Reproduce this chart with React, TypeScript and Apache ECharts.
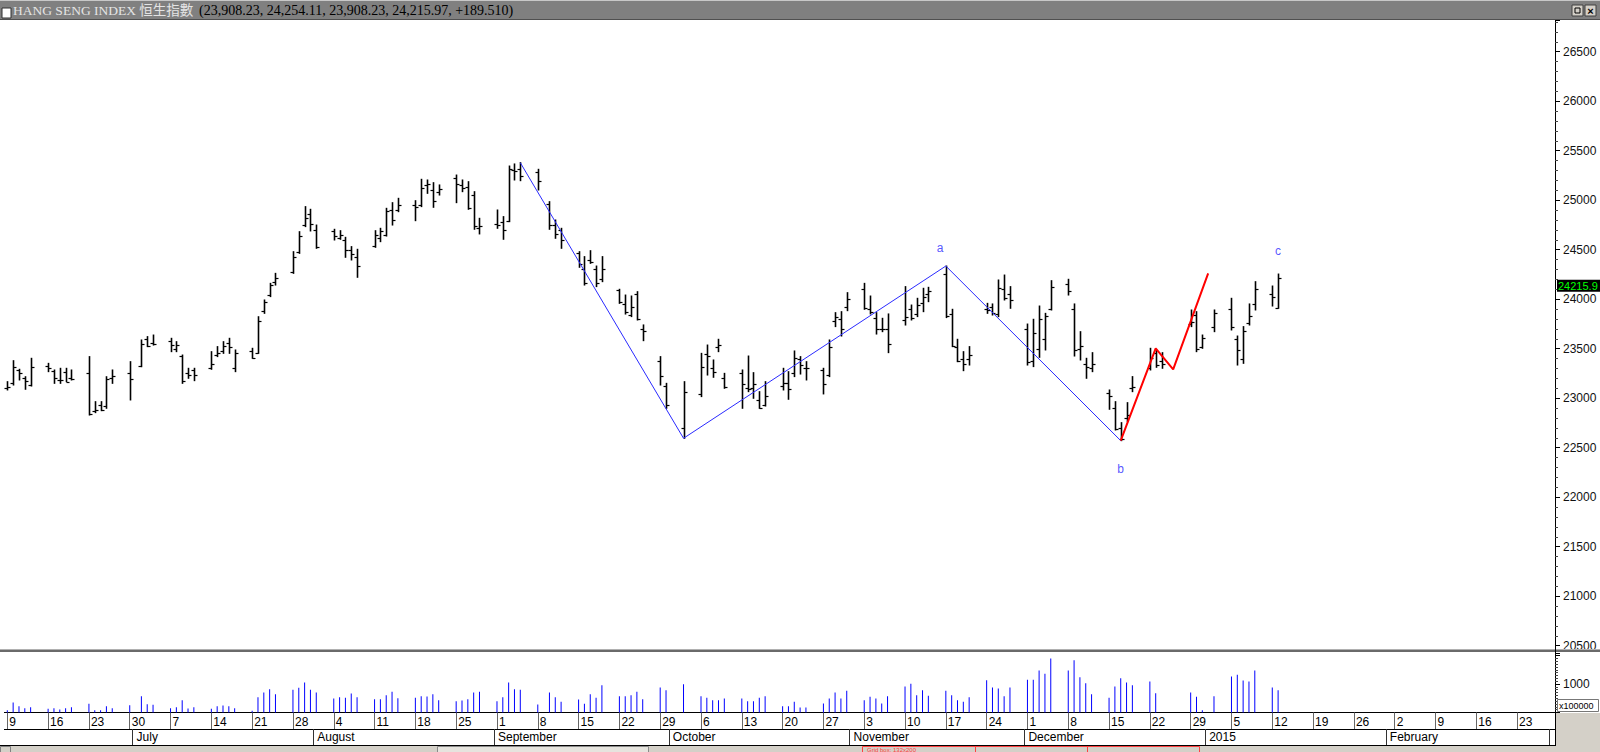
import React, { useEffect, useRef } from "react";
import * as echarts from "echarts";

// ---------- DATA ----------
const tradeDates = [
  "2014-06-09","2014-06-10","2014-06-11","2014-06-12","2014-06-13","2014-06-16","2014-06-17","2014-06-18","2014-06-19","2014-06-20",
  "2014-06-23","2014-06-24","2014-06-25","2014-06-26","2014-06-27","2014-06-30",
  "2014-07-02","2014-07-03","2014-07-04","2014-07-07","2014-07-08","2014-07-09","2014-07-10","2014-07-11","2014-07-14","2014-07-15",
  "2014-07-16","2014-07-17","2014-07-18","2014-07-21","2014-07-22","2014-07-23","2014-07-24","2014-07-25","2014-07-28","2014-07-29",
  "2014-07-30","2014-07-31",
  "2014-08-01","2014-08-04","2014-08-05","2014-08-06","2014-08-07","2014-08-08","2014-08-11","2014-08-12","2014-08-13","2014-08-14",
  "2014-08-15","2014-08-18","2014-08-19","2014-08-20","2014-08-21","2014-08-22","2014-08-25","2014-08-26","2014-08-27","2014-08-28",
  "2014-08-29",
  "2014-09-01","2014-09-02","2014-09-03","2014-09-04","2014-09-05","2014-09-08","2014-09-10","2014-09-11","2014-09-12","2014-09-15",
  "2014-09-16","2014-09-17","2014-09-18","2014-09-19","2014-09-22","2014-09-23","2014-09-24","2014-09-25","2014-09-26","2014-09-29",
  "2014-09-30",
  "2014-10-03","2014-10-06","2014-10-07","2014-10-08","2014-10-09","2014-10-10","2014-10-13","2014-10-14","2014-10-15","2014-10-16",
  "2014-10-17","2014-10-20","2014-10-21","2014-10-22","2014-10-23","2014-10-24","2014-10-27","2014-10-28","2014-10-29","2014-10-30",
  "2014-10-31",
  "2014-11-03","2014-11-04","2014-11-05","2014-11-06","2014-11-07","2014-11-10","2014-11-11","2014-11-12","2014-11-13","2014-11-14",
  "2014-11-17","2014-11-18","2014-11-19","2014-11-20","2014-11-21","2014-11-24","2014-11-25","2014-11-26","2014-11-27","2014-11-28",
  "2014-12-01","2014-12-02","2014-12-03","2014-12-04","2014-12-05","2014-12-08","2014-12-09","2014-12-10","2014-12-11","2014-12-12",
  "2014-12-15","2014-12-16","2014-12-17","2014-12-18","2014-12-19","2014-12-22","2014-12-23","2014-12-24","2014-12-29","2014-12-30",
  "2014-12-31",
  "2015-01-02","2015-01-05","2015-01-06","2015-01-07","2015-01-08","2015-01-09","2015-01-12","2015-01-13",
];

const opens = [
  23100,23150,23280,23200,23130,23330,23270,23180,23260,23200,
  23250,22870,22930,22920,23200,23250,
  23330,23600,23560,23580,23500,23430,23250,23280,23300,23440,
  23480,23560,23300,23480,23460,23880,24040,24170,24270,24480,
  24750,24860,
  24700,24690,24620,24600,24500,24430,24540,24620,24650,24900,
  24900,24950,24950,25150,25100,25080,25220,25150,25130,25050,
  24720,
  24760,24780,24790,25300,25320,25280,24960,24750,24700,24470,
  24300,24400,24300,24200,24090,23950,23840,24050,23700,23380,
  23120,
  22700,23040,23450,23300,23520,23200,23250,23100,23100,22980,
  22930,23120,23150,23250,23400,23300,23280,23230,23780,23800,
  23920,
  24100,23900,23810,23700,23700,23790,23900,23850,23960,24050,
  24250,23850,23520,23400,23400,23900,23920,23850,24100,24050,
  23700,23380,23500,23600,23900,24150,23900,23500,23350,23300,
  23050,22900,22700,22800,23100,23300,23460,23380,23750,23840,
  23520,
  23720,23900,23600,23400,23760,23950,24050,23908.23,
];

const highs = [
  23167,23379,23292,23217,23403,23352,23285,23302,23302,23285,
  23420,22965,22965,23217,23285,23369,
  23588,23622,23638,23605,23571,23436,23302,23302,23470,23521,
  23571,23605,23487,23504,23823,23992,24160,24261,24480,24682,
  24935,24908,
  24749,24706,24692,24625,24531,24504,24692,24716,24918,24975,
  25019,24995,25211,25204,25177,25154,25254,25204,25187,25086,
  24817,
  24901,24834,25345,25366,25379,25312,24985,24800,24716,24480,
  24430,24490,24335,24430,24100,24042,24032,24076,23740,23420,
  23150,
  23167,23453,23537,23386,23595,23251,23285,23426,23258,23066,
  23167,23302,23268,23477,23420,23369,23302,23588,23864,23874,
  24066,
  24160,24032,23864,23807,23851,24127,23941,24009,24110,24120,
  24335,23898,23595,23470,23521,23958,23952,24194,24244,24127,
  23749,23797,23931,23857,24187,24201,23952,23672,23403,23460,
  23083,22965,22753,22955,23218,23504,23487,23460,23891,23874,
  23638,
  23891,24009,23628,23723,23952,24177,24133,24254.11,
];

const lows = [
  23083,23133,23184,23090,23123,23268,23150,23150,23167,23184,
  22830,22854,22874,22898,23150,22982,
  23318,23521,23537,23470,23470,23150,23201,23177,23292,23420,
  23453,23453,23268,23403,23453,23857,24026,24143,24261,24463,
  24733,24689,
  24514,24598,24605,24423,24396,24221,24524,24581,24638,24749,
  24884,24793,24935,25069,24928,25052,24975,25086,24908,24706,
  24659,
  24716,24605,24783,25204,25197,25103,24706,24615,24514,24322,
  24143,24362,24127,24177,23958,23850,23824,23790,23581,23133,
  22898,
  22595,23016,23234,23211,23470,23100,22898,23066,22999,22898,
  22921,23083,22989,23218,23244,23184,23043,23218,23723,23628,
  23884,
  23898,23851,23648,23672,23460,23739,23790,23824,23874,23975,
  23814,23521,23369,23278,23335,23857,23840,23824,23992,23908,
  23335,23319,23413,23487,23891,24042,23426,23386,23201,23268,
  22888,22679,22571,22763,23066,23285,23312,23302,23723,23470,
  23504,
  23672,23689,23335,23352,23739,23891,23931,23908.23,
];

const closes = [
  23117,23315,23257,23175,23319,23300,23203,23181,23168,23194,
  22840,22880,22880,23197,23221,23190,
  23549,23531,23546,23540,23541,23176,23238,23233,23346,23459,
  23523,23520,23454,23410,23782,23971,24141,24216,24428,24640,
  24820,24757,
  24532,24640,24648,24500,24460,24332,24646,24689,24890,24801,
  24955,24935,25122,25159,24994,25112,25166,25123,24918,24741,
  24742,
  24752,24700,25318,25297,25240,25190,24750,24662,24595,24356,
  24160,24376,24168,24306,23970,23870,23921,23800,23678,23229,
  22932,
  23064,23315,23422,23263,23534,23110,23143,23090,23140,22900,
  23024,23150,23088,23403,23333,23302,23143,23520,23820,23702,
  23998,
  23915,23870,23695,23695,23550,23820,23808,23938,24019,24087,
  23830,23530,23373,23349,23437,23893,23860,24111,24010,23987,
  23367,23654,23800,23832,24120,24080,23485,23524,23312,23350,
  23027,22690,22585,22832,23116,23408,23333,23349,23773,23501,
  23605,
  23857,23721,23485,23681,23835,24100,24026.46,24215.97,
];

// volume, units of 100000
const volumes = [
  82,351,222,152,187,129,152,105,152,187,
  304,82,82,222,152,257,
  573,292,269,152,187,433,140,187,129,222,
  246,222,152,59,538,702,819,644,796,866,
  1053,796,
  702,491,538,515,667,538,468,468,608,725,
  503,515,573,562,644,433,398,421,468,702,
  725,
  398,538,1053,819,796,281,702,538,374,456,
  304,644,515,959,573,573,608,725,468,878,
  784,
  995,573,515,433,433,491,491,398,398,515,
  573,222,222,374,176,176,316,491,702,491,
  760,
  433,550,491,316,573,913,1006,608,784,585,
  760,608,433,374,538,1135,878,842,573,878,
  1147,1147,1474,1357,1895,1474,1837,1240,1030,644,
  515,913,1205,1053,959,1088,679,null,702,550,
  82,
  573,1264,1322,1123,1088,1474,878,784,
];

// Elliott-style annotation lines
const waveDates = ["2014-09-05", "2014-10-03", "2014-11-17", "2014-12-17"];
const waveValues = [25379, 22595, 24335, 22571];
const redDates = ["2014-12-17", "2014-12-23", "2014-12-26", "2015-01-01"];
const redValues = [22571, 23504, 23292, 24261];
const labelNames = ["a", "b", "c"];
const labelDates = ["2014-11-16", "2014-12-17", "2015-01-13"];
const labelValues = [24514, 22282, 24484];

// axes
const priceMin = 20500;
const priceMax = 26820;
const priceStep = 500;
const volMin = 0;
const volMax = 2088;
const volStep = 1000;
const firstDay = "2014-06-09";
const dayCount = 266;
const monthNames = ["January","February","March","April","May","June","July","August","September","October","November","December"];
const titleName = "HANG SENG INDEX 恒生指數";

// ---------- HELPERS ----------
const DAY = 86400000;
const START = Date.parse(firstDay + "T00:00:00Z");
const dayAt = (i: number) => new Date(START + i * DAY);
const iso = (d: Date) => d.toISOString().slice(0, 10);
const categories = Array.from({ length: dayCount }, (_, i) => iso(dayAt(i)));
const idxOf = (s: string) => Math.round((Date.parse(s + "T00:00:00Z") - START) / DAY);
const isMonday = (i: number) => dayAt(i).getUTCDay() === 1;
const isMonthStart = (i: number) => dayAt(i).getUTCDate() === 1;
const fmt2 = (v: number) =>
  v.toLocaleString("en-US", { minimumFractionDigits: 2, maximumFractionDigits: 2 });

export default function App() {
  const ref = useRef<HTMLDivElement>(null);

  useEffect(() => {
    document.body.style.margin = "0";
    document.body.style.background = "#fff";
    const chart = echarts.init(ref.current as HTMLDivElement, undefined, { renderer: "svg" });

    const ohlc = tradeDates.map((d, k) => [idxOf(d), opens[k], highs[k], lows[k], closes[k]]);
    const vol = tradeDates.map((d, k) => [idxOf(d), volumes[k]]);

    const L = 4.4;
    const R = 45;

    chart.setOption({
      animation: false,
      backgroundColor: "#ffffff",
      textStyle: { fontFamily: "'Liberation Sans', Arial, sans-serif" },
      grid: [
        { left: L, right: R, top: 20, height: 625.7 },
        { left: L, right: R, top: 653, height: 59.5 },
      ],
      xAxis: [
        { type: "category", gridIndex: 0, data: categories, show: false, boundaryGap: true },
        {
          type: "category",
          gridIndex: 1,
          data: categories,
          boundaryGap: true,
          position: "bottom",
          axisLine: { show: true, lineStyle: { color: "#000", width: 1 } },
          axisTick: {
            show: true,
            alignWithLabel: true,
            interval: (i: number) => isMonday(i),
            length: 16.5,
            lineStyle: { color: "#666", width: 1 },
          },
          axisLabel: {
            show: true,
            interval: (i: number) => isMonday(i),
            formatter: (_v: string, i: number) => String(dayAt(i).getUTCDate()),
            align: "left",
            margin: 3,
            padding: [0, 0, 0, 2],
            fontSize: 12,
            color: "#000",
          },
          splitLine: { show: false },
        },
        {
          type: "category",
          gridIndex: 1,
          data: categories,
          boundaryGap: true,
          position: "bottom",
          offset: 16.5,
          axisLine: { show: true, lineStyle: { color: "#000", width: 1 } },
          axisTick: {
            show: true,
            alignWithLabel: false,
            interval: (i: number) => isMonthStart(i),
            length: 16,
            lineStyle: { color: "#333", width: 1 },
          },
          axisLabel: {
            show: true,
            interval: (i: number) => isMonthStart(i),
            formatter: (_v: string, i: number) => {
              if (i > dayCount - 8) return "";
              const d = dayAt(i);
              const m = d.getUTCMonth();
              return m === 0 ? String(d.getUTCFullYear()) : monthNames[m];
            },
            align: "left",
            margin: 2,
            padding: [0, 0, 0, 1],
            fontSize: 12,
            color: "#000",
          },
          splitLine: { show: false },
        },
      ],
      yAxis: [
        {
          type: "value",
          gridIndex: 0,
          position: "right",
          min: priceMin,
          max: priceMax,
          interval: priceStep,
          axisLine: { show: true, lineStyle: { color: "#000" } },
          axisTick: { show: true, length: 5, lineStyle: { color: "#000" } },
          minorTick: { show: true, splitNumber: 5, length: 3, lineStyle: { color: "#444" } },
          splitLine: { show: false },
          axisLabel: {
            margin: 8,
            fontSize: 12,
            color: "#111",
            showMaxLabel: false,
            formatter: (v: number) => (v % priceStep === 0 ? String(v) : ""),
          },
        },
        {
          type: "value",
          gridIndex: 1,
          position: "right",
          min: volMin,
          max: volMax,
          interval: volStep,
          axisLine: { show: true, lineStyle: { color: "#000" } },
          axisTick: { show: true, length: 5, lineStyle: { color: "#000" } },
          minorTick: { show: true, splitNumber: 10, length: 3, lineStyle: { color: "#444" } },
          splitLine: { show: false },
          axisLabel: {
            margin: 8,
            fontSize: 12,
            color: "#111",
            showMaxLabel: false,
            formatter: (v: number) => (v === volStep ? String(v) : ""),
          },
        },
      ],
      series: [
        {
          type: "custom",
          xAxisIndex: 0,
          yAxisIndex: 0,
          data: ohlc,
          encode: { x: 0, y: [1, 2, 3, 4] },
          renderItem: (_p: any, api: any) => {
            const i = api.value(0);
            const o = api.coord([i, api.value(1)]);
            const h = api.coord([i, api.value(2)]);
            const l = api.coord([i, api.value(3)]);
            const c = api.coord([i, api.value(4)]);
            const x = Math.round(h[0]) + 0.5;
            const st = { stroke: "#000", lineWidth: 1.6 };
            return {
              type: "group",
              children: [
                { type: "line", shape: { x1: x, y1: h[1] - 0.5, x2: x, y2: l[1] + 0.5 }, style: st },
                { type: "line", shape: { x1: x - 3, y1: Math.round(o[1]) + 0.5, x2: x, y2: Math.round(o[1]) + 0.5 }, style: { stroke: "#000", lineWidth: 1.2 } },
                { type: "line", shape: { x1: x, y1: Math.round(c[1]) + 0.5, x2: x + 3, y2: Math.round(c[1]) + 0.5 }, style: { stroke: "#000", lineWidth: 1.2 } },
              ],
            };
          },
          z: 3,
        },
        {
          type: "line",
          xAxisIndex: 0,
          yAxisIndex: 0,
          data: waveDates.map((d, k) => [d, waveValues[k]]),
          symbol: "none",
          lineStyle: { color: "#2a2aff", width: 1 },
          z: 4,
        },
        {
          type: "line",
          xAxisIndex: 0,
          yAxisIndex: 0,
          data: redDates.map((d, k) => [d, redValues[k]]),
          symbol: "none",
          lineStyle: { color: "#ff0000", width: 2 },
          z: 5,
        },
        {
          type: "scatter",
          xAxisIndex: 0,
          yAxisIndex: 0,
          symbol: "circle",
          symbolSize: 1,
          itemStyle: { color: "transparent" },
          data: labelNames.map((n, k) => ({ name: n, value: [labelDates[k], labelValues[k]] })),
          label: {
            show: true,
            position: "inside",
            formatter: (p: any) => p.name,
            color: "#2a2aff",
            fontSize: 12,
          },
          z: 6,
        },
        {
          type: "bar",
          xAxisIndex: 1,
          yAxisIndex: 1,
          data: vol,
          barWidth: 1,
          itemStyle: { color: "#0000ff" },
        },
      ],
    });

    const lastC = closes[closes.length - 1];
    const prevC = closes[closes.length - 2];
    const py = chart.convertToPixel({ yAxisIndex: 0 }, lastC) as number;
    const chg = lastC - prevC;
    const numText =
      "(" +
      [opens[opens.length - 1], highs[highs.length - 1], lows[lows.length - 1], lastC].map(fmt2).join(", ") +
      ", " + (chg >= 0 ? "+" : "") + chg.toFixed(3) + ")";
    const boxText = (Math.floor(lastC * 10) / 10).toFixed(1);

    chart.setOption({
      graphic: {
        elements: [
          // title bar
          { type: "rect", shape: { x: 0, y: 0, width: 1600, height: 20 }, style: { fill: "#808080" }, z: 100 },
          { type: "rect", shape: { x: 0, y: 0, width: 1600, height: 1 }, style: { fill: "#c8c8c8" }, z: 101 },
          { type: "rect", shape: { x: 0, y: 19, width: 1600, height: 1 }, style: { fill: "#505050" }, z: 101 },
          { type: "rect", shape: { x: 2, y: 8, width: 9, height: 10 }, style: { fill: "#ffffff", stroke: "#303030", lineWidth: 1 }, z: 101 },
          {
            type: "text", x: 13, y: 10, z: 101,
            style: { text: titleName, fill: "#e4e4e4", font: "13.5px 'Liberation Serif', 'Noto Sans CJK TC', serif", verticalAlign: "middle" },
          },
          {
            type: "text", x: 199, y: 10, z: 101,
            style: { text: numText, fill: "#000", font: "14px 'Liberation Serif', serif", verticalAlign: "middle" },
          },
          { type: "rect", shape: { x: 1572, y: 5, width: 11, height: 11 }, style: { fill: "#d4d0c8", stroke: "#404040", lineWidth: 1 }, z: 101 },
          { type: "rect", shape: { x: 1575, y: 8, width: 5, height: 5 }, style: { fill: "none", stroke: "#000", lineWidth: 1 }, z: 102 },
          { type: "rect", shape: { x: 1585, y: 5, width: 11, height: 11 }, style: { fill: "#d4d0c8", stroke: "#404040", lineWidth: 1 }, z: 101 },
          { type: "text", x: 1590.5, y: 10.5, z: 102, style: { text: "×", fill: "#000", font: "bold 11px 'Liberation Sans'", align: "center", verticalAlign: "middle" } },
          // separator between price & volume
          { type: "rect", shape: { x: 0, y: 649, width: 1600, height: 1 }, style: { fill: "#b0b0b0" }, z: 50 },
          { type: "rect", shape: { x: 0, y: 650, width: 1600, height: 2 }, style: { fill: "#6a6a6a" }, z: 50 },
          { type: "line", shape: { x1: 1555.5, y1: 645, x2: 1555.5, y2: 653 }, style: { stroke: "#000", lineWidth: 1 }, z: 51 },
          // price box
          { type: "rect", shape: { x: 1557, y: py + 2, width: 43, height: 12 }, style: { fill: "#000" }, z: 60 },
          { type: "text", x: 1558, y: py + 8.5, z: 61, style: { text: boxText, fill: "#00ff00", font: "11px 'Liberation Sans'", verticalAlign: "middle" } },
          // x100000 box
          { type: "rect", shape: { x: 1557.5, y: 699.5, width: 41, height: 12 }, style: { fill: "#fff", stroke: "#777", lineWidth: 1 }, z: 60 },
          { type: "text", x: 1559, y: 706, z: 61, style: { text: "x100000", fill: "#000", font: "9px 'Liberation Sans'", verticalAlign: "middle" } },
          // right lower grey area
          { type: "rect", shape: { x: 1556, y: 713, width: 44, height: 39 }, style: { fill: "#d4d0c8" }, z: 40 },
          { type: "line", shape: { x1: 1555.5, y1: 712, x2: 1555.5, y2: 745 }, style: { stroke: "#000", lineWidth: 1 }, z: 41 },
          // bottom strip
          { type: "rect", shape: { x: 0, y: 745, width: 1600, height: 7 }, style: { fill: "#d4d0c8" }, z: 40 },
          { type: "line", shape: { x1: 0, y1: 745.5, x2: 1556, y2: 745.5 }, style: { stroke: "#000", lineWidth: 1 }, z: 41 },
          { type: "rect", shape: { x: 0.5, y: 746.5, width: 10, height: 8 }, style: { fill: "#d4d0c8", stroke: "#808080", lineWidth: 1 }, z: 41 },
          { type: "rect", shape: { x: 437.5, y: 746.5, width: 211, height: 8 }, style: { fill: "#e6e4de", stroke: "#8a8a8a", lineWidth: 1 }, z: 41 },
          { type: "rect", shape: { x: 862.5, y: 746.5, width: 337, height: 9 }, style: { fill: "none", stroke: "#ff4040", lineWidth: 1 }, z: 42 },
          { type: "line", shape: { x1: 975.5, y1: 746, x2: 975.5, y2: 752 }, style: { stroke: "#ff4040", lineWidth: 1 }, z: 42 },
          { type: "line", shape: { x1: 1087.5, y1: 746, x2: 1087.5, y2: 752 }, style: { stroke: "#ff4040", lineWidth: 1 }, z: 42 },
          { type: "text", x: 867, y: 746.5, z: 42, style: { text: "Grid box: 132x200", fill: "#ff4040", font: "6px 'Liberation Sans'", verticalAlign: "top" } },
        ],
      },
    });

    return () => chart.dispose();
  }, []);

  return (
    <div
      ref={ref}
      style={{ position: "fixed", left: 0, top: 0, width: 1600, height: 752, background: "#fff" }}
    />
  );
}
